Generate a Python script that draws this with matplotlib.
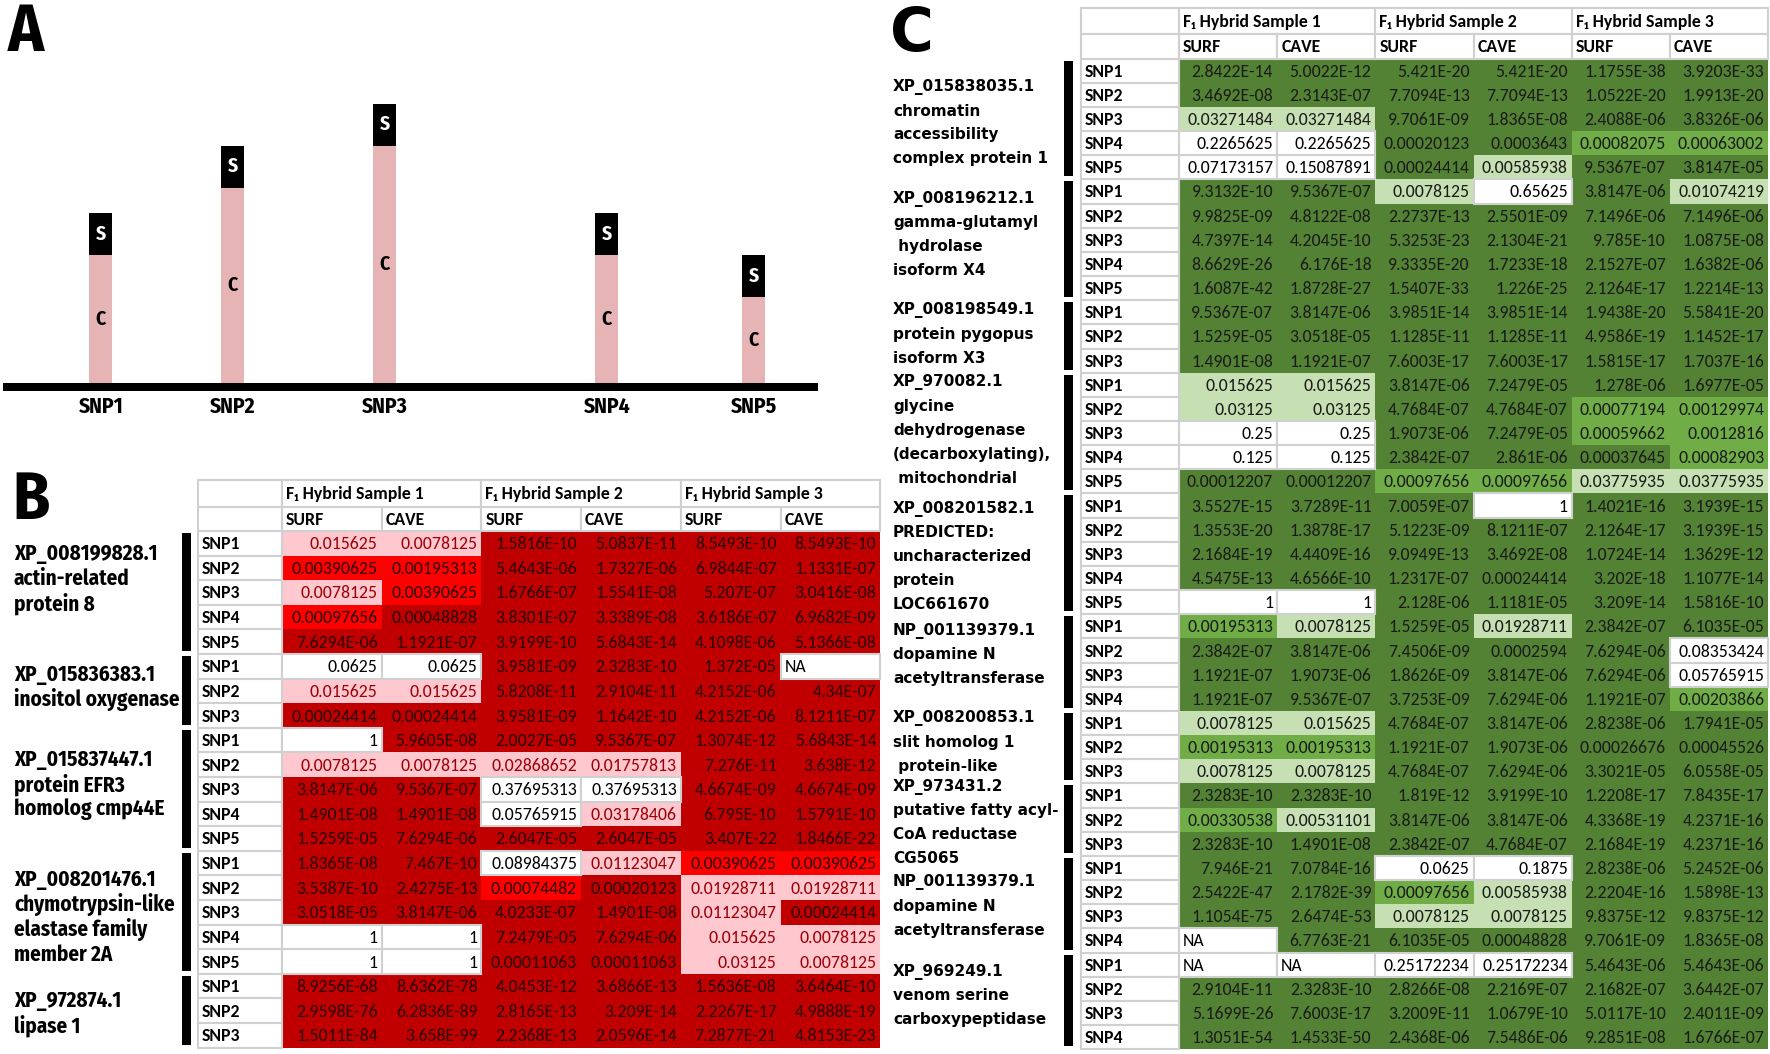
import matplotlib
matplotlib.use('Agg')
import matplotlib.pyplot as plt
from matplotlib.patches import Rectangle

W, H = 1770, 1054

# ---------------- data ----------------
# panel A: schematic allele bars (C = cave part, S = surface part)
snp_names = ['SNP1', 'SNP2', 'SNP3', 'SNP4', 'SNP5']
c_height = [3.05, 4.65, 5.65, 3.05, 2.05]
s_height = [1, 1, 1, 1, 1]

samples = ['F\u2081 Hybrid Sample 1', 'F\u2081 Hybrid Sample 2', 'F\u2081 Hybrid Sample 3']
pops = ['SURF', 'CAVE']

# panel B
b_genes = [
    ['XP_008199828.1', 'actin-related', 'protein 8'],
    ['XP_015836383.1', 'inositol oxygenase'],
    ['XP_015837447.1', 'protein EFR3', 'homolog cmp44E'],
    ['XP_008201476.1', 'chymotrypsin-like', 'elastase family', 'member 2A'],
    ['XP_972874.1', 'lipase 1'],
]
b_nsnp = [5, 3, 5, 5, 3]
b_values = [
    ['0.015625', '0.0078125', '1.5816E-10', '5.0837E-11', '8.5493E-10', '8.5493E-10'],
    ['0.00390625', '0.00195313', '5.4643E-06', '1.7327E-06', '6.9844E-07', '1.1331E-07'],
    ['0.0078125', '0.00390625', '1.6766E-07', '1.5541E-08', '5.207E-07', '3.0416E-08'],
    ['0.00097656', '0.00048828', '3.8301E-07', '3.3389E-08', '3.6186E-07', '6.9682E-09'],
    ['7.6294E-06', '1.1921E-07', '3.9199E-10', '5.6843E-14', '4.1098E-06', '5.1366E-08'],
    ['0.0625', '0.0625', '3.9581E-09', '2.3283E-10', '1.372E-05', 'NA'],
    ['0.015625', '0.015625', '5.8208E-11', '2.9104E-11', '4.2152E-06', '4.34E-07'],
    ['0.00024414', '0.00024414', '3.9581E-09', '1.1642E-10', '4.2152E-06', '8.1211E-07'],
    ['1', '5.9605E-08', '2.0027E-05', '9.5367E-07', '1.3074E-12', '5.6843E-14'],
    ['0.0078125', '0.0078125', '0.02868652', '0.01757813', '7.276E-11', '3.638E-12'],
    ['3.8147E-06', '9.5367E-07', '0.37695313', '0.37695313', '4.6674E-09', '4.6674E-09'],
    ['1.4901E-08', '1.4901E-08', '0.05765915', '0.03178406', '6.795E-10', '1.5791E-10'],
    ['1.5259E-05', '7.6294E-06', '2.6047E-05', '2.6047E-05', '3.407E-22', '1.8466E-22'],
    ['1.8365E-08', '7.467E-10', '0.08984375', '0.01123047', '0.00390625', '0.00390625'],
    ['3.5387E-10', '2.4275E-13', '0.00074482', '0.00020123', '0.01928711', '0.01928711'],
    ['3.0518E-05', '3.8147E-06', '4.0233E-07', '1.4901E-08', '0.01123047', '0.00024414'],
    ['1', '1', '7.2479E-05', '7.6294E-06', '0.015625', '0.0078125'],
    ['1', '1', '0.00011063', '0.00011063', '0.03125', '0.0078125'],
    ['8.9256E-68', '8.6362E-78', '4.0453E-12', '3.6866E-13', '1.5636E-08', '3.6464E-10'],
    ['2.9598E-76', '6.2836E-89', '2.8165E-13', '3.209E-14', '2.2267E-17', '4.9888E-19'],
    ['1.5011E-84', '3.658E-99', '2.2368E-13', '2.0596E-14', '7.2877E-21', '4.8153E-23'],
]

# panel C
c_genes = [
    ['XP_015838035.1', 'chromatin', 'accessibility', 'complex protein 1'],
    ['XP_008196212.1', 'gamma-glutamyl', ' hydrolase', 'isoform X4'],
    ['XP_008198549.1', 'protein pygopus', 'isoform X3'],
    ['XP_970082.1', 'glycine', 'dehydrogenase', '(decarboxylating),', ' mitochondrial'],
    ['XP_008201582.1', 'PREDICTED:', 'uncharacterized', 'protein', 'LOC661670'],
    ['NP_001139379.1', 'dopamine N', 'acetyltransferase'],
    ['XP_008200853.1', 'slit homolog 1', ' protein-like'],
    ['XP_973431.2', 'putative fatty acyl-', 'CoA reductase', 'CG5065'],
    ['NP_001139379.1', 'dopamine N', 'acetyltransferase'],
    ['XP_969249.1', 'venom serine', 'carboxypeptidase'],
]
c_nsnp = [5, 5, 3, 5, 5, 4, 3, 3, 4, 4]
c_values = [
    ['2.8422E-14', '5.0022E-12', '5.421E-20', '5.421E-20', '1.1755E-38', '3.9203E-33'],
    ['3.4692E-08', '2.3143E-07', '7.7094E-13', '7.7094E-13', '1.0522E-20', '1.9913E-20'],
    ['0.03271484', '0.03271484', '9.7061E-09', '1.8365E-08', '2.4088E-06', '3.8326E-06'],
    ['0.2265625', '0.2265625', '0.00020123', '0.0003643', '0.00082075', '0.00063002'],
    ['0.07173157', '0.15087891', '0.00024414', '0.00585938', '9.5367E-07', '3.8147E-05'],
    ['9.3132E-10', '9.5367E-07', '0.0078125', '0.65625', '3.8147E-06', '0.01074219'],
    ['9.9825E-09', '4.8122E-08', '2.2737E-13', '2.5501E-09', '7.1496E-06', '7.1496E-06'],
    ['4.7397E-14', '4.2045E-10', '5.3253E-23', '2.1304E-21', '9.785E-10', '1.0875E-08'],
    ['8.6629E-26', '6.176E-18', '9.3335E-20', '1.7233E-18', '2.1527E-07', '1.6382E-06'],
    ['1.6087E-42', '1.8728E-27', '1.5407E-33', '1.226E-25', '2.1264E-17', '1.2214E-13'],
    ['9.5367E-07', '3.8147E-06', '3.9851E-14', '3.9851E-14', '1.9438E-20', '5.5841E-20'],
    ['1.5259E-05', '3.0518E-05', '1.1285E-11', '1.1285E-11', '4.9586E-19', '1.1452E-17'],
    ['1.4901E-08', '1.1921E-07', '7.6003E-17', '7.6003E-17', '1.5815E-17', '1.7037E-16'],
    ['0.015625', '0.015625', '3.8147E-06', '7.2479E-05', '1.278E-06', '1.6977E-05'],
    ['0.03125', '0.03125', '4.7684E-07', '4.7684E-07', '0.00077194', '0.00129974'],
    ['0.25', '0.25', '1.9073E-06', '7.2479E-05', '0.00059662', '0.0012816'],
    ['0.125', '0.125', '2.3842E-07', '2.861E-06', '0.00037645', '0.00082903'],
    ['0.00012207', '0.00012207', '0.00097656', '0.00097656', '0.03775935', '0.03775935'],
    ['3.5527E-15', '3.7289E-11', '7.0059E-07', '1', '1.4021E-16', '3.1939E-15'],
    ['1.3553E-20', '1.3878E-17', '5.1223E-09', '8.1211E-07', '2.1264E-17', '3.1939E-15'],
    ['2.1684E-19', '4.4409E-16', '9.0949E-13', '3.4692E-08', '1.0724E-14', '1.3629E-12'],
    ['4.5475E-13', '4.6566E-10', '1.2317E-07', '0.00024414', '3.202E-18', '1.1077E-14'],
    ['1', '1', '2.128E-06', '1.1181E-05', '3.209E-14', '1.5816E-10'],
    ['0.00195313', '0.0078125', '1.5259E-05', '0.01928711', '2.3842E-07', '6.1035E-05'],
    ['2.3842E-07', '3.8147E-06', '7.4506E-09', '0.0002594', '7.6294E-06', '0.08353424'],
    ['1.1921E-07', '1.9073E-06', '1.8626E-09', '3.8147E-06', '7.6294E-06', '0.05765915'],
    ['1.1921E-07', '9.5367E-07', '3.7253E-09', '7.6294E-06', '1.1921E-07', '0.00203866'],
    ['0.0078125', '0.015625', '4.7684E-07', '3.8147E-06', '2.8238E-06', '1.7941E-05'],
    ['0.00195313', '0.00195313', '1.1921E-07', '1.9073E-06', '0.00026676', '0.00045526'],
    ['0.0078125', '0.0078125', '4.7684E-07', '7.6294E-06', '3.3021E-05', '6.0558E-05'],
    ['2.3283E-10', '2.3283E-10', '1.819E-12', '3.9199E-10', '1.2208E-17', '7.8435E-17'],
    ['0.00330538', '0.00531101', '3.8147E-06', '3.8147E-06', '4.3368E-19', '4.2371E-16'],
    ['2.3283E-10', '1.4901E-08', '2.3842E-07', '4.7684E-07', '2.1684E-19', '4.2371E-16'],
    ['7.946E-21', '7.0784E-16', '0.0625', '0.1875', '2.8238E-06', '5.2452E-06'],
    ['2.5422E-47', '2.1782E-39', '0.00097656', '0.00585938', '2.2204E-16', '1.5898E-13'],
    ['1.1054E-75', '2.6474E-53', '0.0078125', '0.0078125', '9.8375E-12', '9.8375E-12'],
    ['NA', '6.7763E-21', '6.1035E-05', '0.00048828', '9.7061E-09', '1.8365E-08'],
    ['NA', 'NA', '0.25172234', '0.25172234', '5.4643E-06', '5.4643E-06'],
    ['2.9104E-11', '2.3283E-10', '2.8266E-08', '2.2169E-07', '2.1682E-07', '3.6442E-07'],
    ['5.1699E-26', '7.6003E-17', '3.2009E-11', '1.0679E-10', '5.0117E-10', '2.4011E-09'],
    ['1.3051E-54', '1.4533E-50', '2.4368E-06', '7.5486E-06', '9.2851E-08', '1.6766E-07'],
]

# ---------------- fonts / styles ----------------
COND = ['Fira Sans Condensed', 'Liberation Sans', 'DejaVu Sans']   # Myriad-condensed look
CELL = ['Carlito', 'Liberation Sans', 'DejaVu Sans']               # Calibri metrics
WIDE = ['DejaVu Sans']                                             # Verdana-like

GRID = '#D0D0D0'
red_fills = ['#C00000', '#FF0000', '#FFC7CE', 'white']
red_text = ['#2A0000', '#2A0000', '#9C0006', 'black']
green_fills = ['#548235', '#70AD47', '#C6E0B4', 'white']
green_text = ['#1A1A1A', '#1A1A1A', '#1A1A1A', 'black']
CELL_FS = 12.8


def level(v):
    # fill class used by the spreadsheet's conditional formatting
    if v == 'NA':
        return 3
    p = float(v)
    if p < 0.0005:
        return 0
    if p < 0.005:
        return 1
    if p < 0.05:
        return 2
    return 3


def draw_table(ax, x0, y0, label_w, col_w, head_h, row_h, nsnp, values, fills, tcols):
    lw = 1.5
    # header row 1
    ax.add_patch(Rectangle((x0, y0), label_w, head_h[0], fc='white', ec=GRID, lw=lw, zorder=2))
    for k, s in enumerate(samples):
        x = x0 + label_w + 2 * k * col_w
        ax.add_patch(Rectangle((x, y0), 2 * col_w, head_h[0], fc='white', ec=GRID, lw=lw, zorder=2))
        ax.text(x + 4, y0 + head_h[0] / 2 + 1, s, fontsize=CELL_FS, fontweight='bold', family=CELL,
                va='center', ha='left', zorder=3)
    # header row 2
    y1 = y0 + head_h[0]
    ax.add_patch(Rectangle((x0, y1), label_w, head_h[1], fc='white', ec=GRID, lw=lw, zorder=2))
    for j in range(6):
        x = x0 + label_w + j * col_w
        ax.add_patch(Rectangle((x, y1), col_w, head_h[1], fc='white', ec=GRID, lw=lw, zorder=2))
        ax.text(x + 4, y1 + head_h[1] / 2 + 1, pops[j % 2], fontsize=CELL_FS, fontweight='bold',
                family=CELL, va='center', ha='left', zorder=3)
    # data rows
    yd = y1 + head_h[1]
    snps = [f'SNP{i + 1}' for n in nsnp for i in range(n)]
    for r, (snp, row) in enumerate(zip(snps, values)):
        y = yd + r * row_h
        ax.add_patch(Rectangle((x0, y), label_w, row_h, fc='white', ec=GRID, lw=lw, zorder=2))
        ax.text(x0 + 4, y + row_h / 2 + 1, snp, fontsize=CELL_FS, fontweight='bold', family=CELL,
                va='center', ha='left', zorder=3)
        for j, v in enumerate(row):
            x = x0 + label_w + j * col_w
            lv = level(v)
            if lv == 3:
                ax.add_patch(Rectangle((x, y), col_w, row_h, fc='white', ec=GRID, lw=lw, zorder=2))
            else:
                ax.add_patch(Rectangle((x, y), col_w, row_h, fc=fills[lv], ec='none', zorder=1))
            if v == 'NA':
                ax.text(x + 4, y + row_h / 2 + 1, v, fontsize=CELL_FS, family=CELL, color=tcols[lv],
                        va='center', ha='left', zorder=3)
            else:
                ax.text(x + col_w - 4, y + row_h / 2 + 1, v, fontsize=CELL_FS, family=CELL,
                        color=tcols[lv], va='center', ha='right', zorder=3)
    return yd


def draw_groups(ax, yd, row_h, nsnp, genes, bar_x, label_x, pitch, dys, font, fsize):
    start = 0
    for n, lines, dy in zip(nsnp, genes, dys):
        top = yd + start * row_h
        bot = top + n * row_h
        ax.add_patch(Rectangle((bar_x, top + 2), 9, n * row_h - 5, fc='black', ec='none'))
        yc = (top + bot) / 2 + dy
        for i, t in enumerate(lines):
            ax.text(label_x, yc + (i - (len(lines) - 1) / 2) * pitch, t, fontsize=fsize,
                    fontweight='bold', family=font, va='center', ha='left')
        start += n


fig = plt.figure(figsize=(W / 100, H / 100), dpi=100)
ax = fig.add_axes([0, 0, 1, 1])
ax.set_xlim(0, W)
ax.set_ylim(H, 0)
ax.axis('off')

# panel letters
ax.text(8, 51, 'A', fontsize=48, fontweight='bold', family=COND, va='baseline', ha='left')
ax.text(12, 519, 'B', fontsize=48, fontweight='bold', family=COND, va='baseline', ha='left')
ax.text(890, 51, 'C', fontsize=43, fontweight='bold', family=WIDE, va='baseline', ha='left')

# panel B table
yd_b = draw_table(ax, 198, 480, 84, 99.7, (27, 24), 24.6, b_nsnp, b_values, red_fills, red_text)
draw_groups(ax, yd_b, 24.6, b_nsnp, b_genes, 182, 14, 24.8, [-14, -4, -5, 5, 3], COND, 15.2)

# panel C table
yd_c = draw_table(ax, 1081, 8, 98, 98.2, (26, 24.6), 24.16, c_nsnp, c_values, green_fills, green_text)
draw_groups(ax, yd_c, 24.16, c_nsnp, c_genes, 1064, 893, 24, [4, -5, -2, -3, 3, -8, -5, 3, 2, -5],
            WIDE, 11)

# panel A schematic
U = 42.0          # pixels per unit of bar height
base_px = 383     # baseline top (pixel row)
top_px, bot_px = 61, 391
left_px, right_px = 3, 818
axa = fig.add_axes([left_px / W, 1 - bot_px / H, (right_px - left_px) / W, (bot_px - top_px) / H])
axa.set_xlim(left_px, right_px)
axa.set_ylim(-(bot_px - base_px) / U, (base_px - top_px) / U)
axa.axis('off')
snp_x = [101, 233, 385, 607, 754]
axa.axhspan(-(bot_px - base_px) / U, 0, color='black', lw=0)
axa.bar(snp_x, c_height, width=23, color='#E6B4B5', lw=0)
axa.bar(snp_x, s_height, bottom=c_height, width=23, color='black', lw=0)
for x, c, s, name in zip(snp_x, c_height, s_height, snp_names):
    axa.text(x, c / 2, 'C', fontsize=14, fontweight='bold', family=COND, ha='center', va='center')
    axa.text(x, c + s / 2, 'S', fontsize=14, fontweight='bold', family=COND, color='white',
             ha='center', va='center')
    axa.text(x, -24 / U, name, fontsize=15.5, fontweight='bold', family=COND, ha='center',
             va='center', clip_on=False)

fig.savefig('out.png', dpi=100)
